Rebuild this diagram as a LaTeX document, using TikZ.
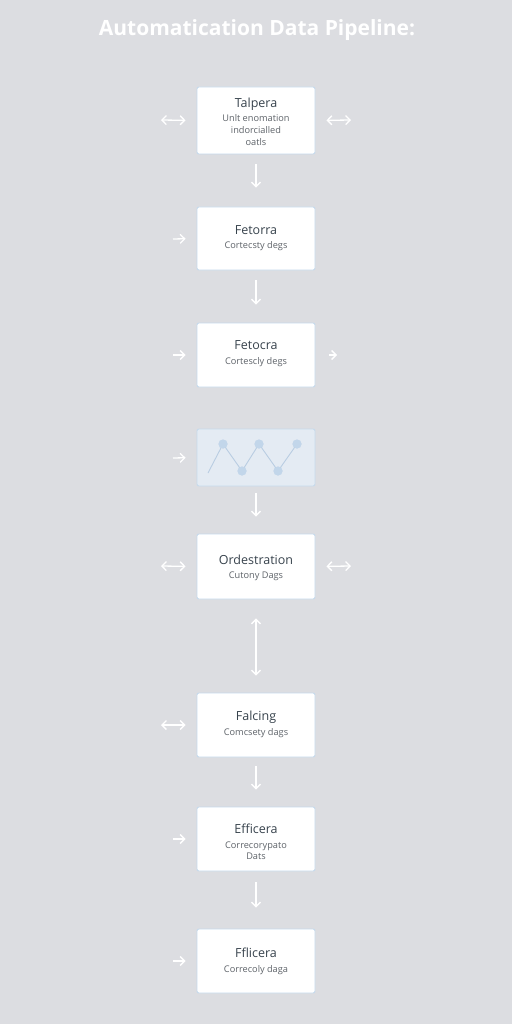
\documentclass[tikz,border=0pt]{standalone}
\usepackage{fontspec}
\setmainfont{Open Sans}
\usetikzlibrary{arrows.meta}
\definecolor{bg}{HTML}{DCDDE1}
\definecolor{boxedge}{HTML}{C6DAEC}
\definecolor{chartfill}{HTML}{E4EBF3}
\definecolor{chartline}{HTML}{B9CDE2}
\definecolor{dot}{HTML}{C2D6EA}
\definecolor{ttl}{HTML}{38434D}
\definecolor{sub}{HTML}{5E6369}
\tikzset{
  box/.style={draw=boxedge, line width=0.9pt, fill=white, rounded corners=2pt, minimum width=118pt, inner sep=0pt},
  chartbox/.style={draw=boxedge, line width=0.9pt, fill=chartfill, rounded corners=2pt, minimum width=118pt, minimum height=57pt, inner sep=0pt},
  ttltext/.style={text=ttl, font=\fontsize{12.5}{14}\selectfont, inner sep=0pt},
  subtext/.style={text=sub, font=\fontsize{9.2}{12}\selectfont, inner sep=0pt, align=center},
  arr/.style={draw=white, line width=1.3pt, -{Straight Barb[length=4.5pt,width=9pt,line width=1.3pt]}},
  darr/.style={draw=white, line width=1.3pt, {Straight Barb[length=4.5pt,width=9pt,line width=1.3pt]}-{Straight Barb[length=4.5pt,width=9pt,line width=1.3pt]}},
  pt/.style={circle, fill=dot, inner sep=0pt, minimum size=9pt}
}
\begin{document}
\begin{tikzpicture}[x=1pt,y=-1pt]
\fill[bg] (0,0) rectangle (512,1024);
\useasboundingbox (0,0) rectangle (512,1024);

\node[text=white, font=\fontsize{21}{25}\selectfont\bfseries, inner sep=0pt] (title) at (257,30) {Automatication Data Pipeline:};

% boxes
\node[box, minimum height=67pt] (b1) at (256,120.5) {};
\node[box, minimum height=63pt] (b2) at (256,238.5) {};
\node[box, minimum height=64pt] (b3) at (256,355) {};
\node[chartbox] (b4) at (256,457.5) {};
\node[box, minimum height=65pt] (b5) at (256,566.5) {};
\node[box, minimum height=64pt] (b6) at (256,725) {};
\node[box, minimum height=64pt] (b7) at (256,839) {};
\node[box, minimum height=64pt] (b8) at (256,961) {};

% texts
\node[ttltext] (t1) at (256,104) {Talpera};
\node[subtext] (s1) at (256,130) {Unlt enomation\\[-0.2pt]indorcialled\\[-0.2pt]oatls};
\node[ttltext] (t2) at (256,230) {Fetorra};
\node[subtext] (s2) at (256,246.5) {Cortecsty degs};
\node[ttltext] (t3) at (256,345.5) {Fetocra};
\node[subtext] (s3) at (256,362.5) {Cortescly degs};
\node[ttltext] (t5) at (256,559.5) {Ordestration};
\node[subtext] (s5) at (256,576.5) {Cutony Dags};
\node[ttltext] (t6) at (256,717.5) {Falcing};
\node[subtext] (s6) at (256,733.5) {Comcsety dags};
\node[ttltext] (t7) at (256,829) {Efficera};
\node[subtext] (s7) at (256,851) {Correcorypato\\[-0.8pt]Dats};
\node[ttltext] (t8) at (256,953) {Fflicera};
\node[subtext] (s8) at (256,970) {Correcoly daga};

% chart
\coordinate (c0) at (208,473);
\node[pt] (c1) at (223,444) {};
\node[pt] (c2) at (242,471) {};
\node[pt] (c3) at (259,444) {};
\node[pt] (c4) at (278,471) {};
\node[pt] (c5) at (297,444) {};
\draw[chartline, line width=0.9pt] (c0) -- (c1.center) -- (c2.center) -- (c3.center) -- (c4.center) -- (c5.center);
\foreach \i in {1,...,5} \node[pt] at (c\i) {};

% vertical connectors
\draw[arr, shorten <=10pt, shorten >=19pt] (b1.south) -- (b2.north);
\draw[arr, shorten <=10pt, shorten >=18pt] (b2.south) -- (b3.north);
\draw[arr, shorten <=7pt, shorten >=17pt] (b4.south) -- (b5.north);
\draw[darr, shorten <=19pt, shorten >=17pt] (b5.south) -- (b6.north);
\draw[arr, shorten <=9pt, shorten >=17pt] (b6.south) -- (b7.north);
\draw[arr, shorten <=11pt, shorten >=21pt] (b7.south) -- (b8.north);

% side connectors
\coordinate (l1) at (161,120);
\coordinate (r1) at (351,120);
\draw[darr, shorten >=11pt] (l1) -- (b1.west);
\draw[darr, shorten <=11pt] (b1.east) -- (r1);

\coordinate (l2) at (173,239);
\draw[arr, shorten >=11pt] (l2) -- (b2.west);

\coordinate (l3) at (173,355);
\coordinate (r3) at (337,355);
\draw[arr, shorten >=11pt] (l3) -- (b3.west);
\draw[arr, shorten <=14pt] (b3.east) -- (r3);

\coordinate (l4) at (173,458);
\draw[arr, shorten >=11pt] (l4) -- (b4.west);

\coordinate (l5) at (161,566);
\coordinate (r5) at (351,566);
\draw[darr, shorten >=11pt] (l5) -- (b5.west);
\draw[darr, shorten <=11pt] (b5.east) -- (r5);

\coordinate (l6) at (161,725);
\draw[darr, shorten >=11pt] (l6) -- (b6.west);

\coordinate (l7) at (173,839);
\draw[arr, shorten >=11pt] (l7) -- (b7.west);

\coordinate (l8) at (173,961);
\draw[arr, shorten >=11pt] (l8) -- (b8.west);
\end{tikzpicture}
\end{document}
